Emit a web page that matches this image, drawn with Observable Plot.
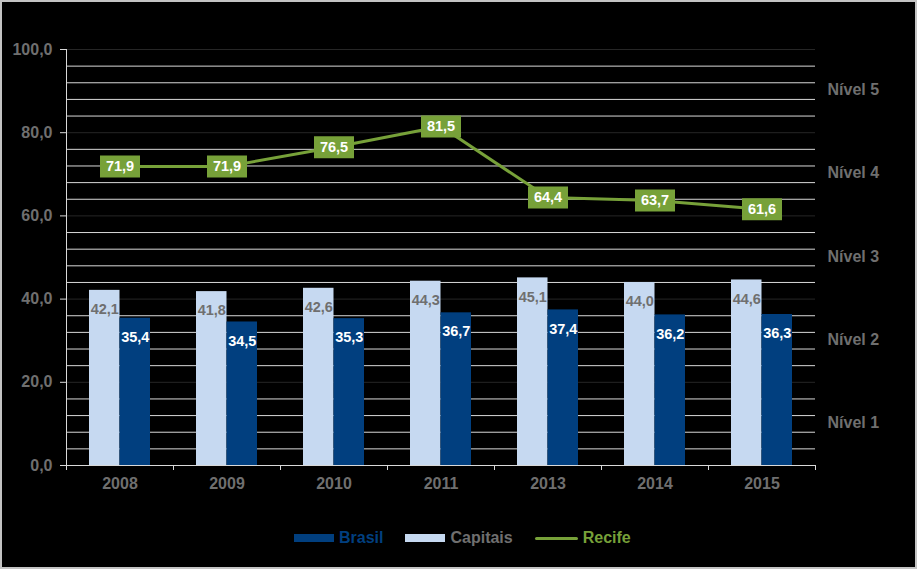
<!DOCTYPE html>
<html>
<head>
<meta charset="utf-8">
<script src="https://cdn.jsdelivr.net/npm/d3@7"></script>
<script src="https://cdn.jsdelivr.net/npm/@observablehq/plot@0.6"></script>
<style>
  html, body { margin: 0; padding: 0; background: #000; }
  #wrap { position: relative; width: 917px; height: 569px; box-sizing: border-box;
          border: 2px solid #c3c3c3; background: #000; overflow: hidden;
          font-family: "Liberation Sans", Arial, sans-serif; font-weight: bold; }
  #chart svg { display: block; }
  #legend { position: absolute; left: 292px; top: 527px; display: flex; align-items: center; gap: 22px; font-size: 16px; }
  .item { display: flex; align-items: center; gap: 5px; }
</style>
</head>
<body>
<div id="wrap">
  <div id="chart"></div>
  <div id="legend"></div>
</div>
<script>
// ---- data ----
const years = ["2008", "2009", "2010", "2011", "2013", "2014", "2015"];
const capitais = [42.1, 41.8, 42.6, 44.3, 45.1, 44.0, 44.6];
const brasil = [35.4, 34.5, 35.3, 36.7, 37.4, 36.2, 36.3];
const recife = [71.9, 71.9, 76.5, 81.5, 64.4, 63.7, 61.6];
const seriesNames = ["Brasil", "Capitais", "Recife"];
const yTicks = [0, 20, 40, 60, 80, 100];
const nivelTicks = [10, 30, 50, 70, 90];
const nivelLabels = ["Nível 1", "Nível 2", "Nível 3", "Nível 4", "Nível 5"];

// ---- styles ----
const C_BRASIL = "#013f7f", C_CAP = "#c6d9f1", C_REC = "#77a139";
const C_TEXT = "#6f6f6f", C_MINOR = "#d9d9d9", C_MAJOR = "#262626";

const fmt = v => v.toFixed(1).replace(".", ",");
const capRows = years.map((y, i) => ({year: y, value: capitais[i]}));
const braRows = years.map((y, i) => ({year: y, value: brasil[i]}));
const recRows = years.map((y, i) => ({year: y, value: recife[i]}));
const minorGrid = d3.range(4, 100, 4).filter(v => v % 20 !== 0);
const majorGrid = yTicks.filter(v => v > 0);

const W = 913, H = 505, ML = 64, MR = 100;
const half = (W - ML - MR) / years.length / 2;

const boxSymbol = { draw(ctx) { ctx.rect(-20, -11, 40, 22); } };

const chart = Plot.plot({
  width: W, height: H,
  marginLeft: ML, marginRight: MR, marginTop: 47, marginBottom: 42,
  style: { background: "#000", fontFamily: "'Liberation Sans', Arial, sans-serif", fontWeight: "bold", fontSize: "16px" },
  x: { domain: years, padding: 0, label: null },
  y: { domain: [0, 100], label: null },
  marks: [
    Plot.ruleY(minorGrid, { stroke: C_MINOR, strokeWidth: 1 }),
    Plot.ruleY(majorGrid, { stroke: C_MAJOR, strokeWidth: 1 }),
    Plot.ruleY([0], { stroke: C_MINOR }),
    Plot.ruleX([years[0]], { dx: -half, stroke: C_MINOR }),
    Plot.axisY({ ticks: yTicks, tickSize: 6, tickPadding: 8, tickFormat: fmt, label: null, stroke: C_MINOR, fill: C_TEXT, fontSize: 16, fontWeight: "bold" }),
    Plot.axisY({ anchor: "right", ticks: nivelTicks, tickSize: 0, tickPadding: 12, label: null, dy: -1,
                 tickFormat: d => nivelLabels[nivelTicks.indexOf(d)], fill: C_TEXT, fontSize: 16, fontWeight: "bold" }),
    Plot.axisX({ tickSize: 5, tickFormat: () => "", label: null, dx: -half, stroke: C_MINOR }),
    Plot.axisX({ ticks: [years[years.length - 1]], tickSize: 5, tickFormat: () => "", label: null, dx: half, stroke: C_MINOR }),
    Plot.axisX({ tickSize: 0, tickPadding: 12, label: null, fill: C_TEXT, fontSize: 16, fontWeight: "bold" }),
    Plot.barY(capRows, { x: "year", y: "value", fill: C_CAP, insetLeft: 23, insetRight: half }),
    Plot.barY(braRows, { x: "year", y: "value", fill: C_BRASIL, insetLeft: half, insetRight: 23 }),
    Plot.text(capRows, { x: "year", y: "value", text: d => fmt(d.value), dx: -15.25, dy: 19, fill: C_TEXT, fontSize: 14.5, fontWeight: "bold" }),
    Plot.text(braRows, { x: "year", y: "value", text: d => fmt(d.value), dx: 15.25, dy: 19, fill: "#fff", fontSize: 14.5, fontWeight: "bold" }),
    Plot.line(recRows, { x: "year", y: "value", stroke: C_REC, strokeWidth: 3 }),
    Plot.dot(recRows, { x: "year", y: "value", symbol: boxSymbol, fill: C_REC, stroke: "none" }),
    Plot.text(recRows, { x: "year", y: "value", text: d => fmt(d.value), fill: "#fff", fontSize: 14.5, fontWeight: "bold" })
  ]
});
document.getElementById("chart").appendChild(chart);

// ---- legend ----
const legend = document.getElementById("legend");
const legendStyle = [
  { swatch: `width:40px;height:8px;background:${C_BRASIL}`, color: C_BRASIL },
  { swatch: `width:40px;height:8px;background:${C_CAP}`, color: C_TEXT },
  { swatch: `width:43px;height:3px;background:${C_REC};border-radius:2px`, color: C_REC }
];
seriesNames.forEach((name, i) => {
  const it = document.createElement("div");
  it.className = "item";
  it.innerHTML = `<span style="${legendStyle[i].swatch};display:inline-block"></span><span style="color:${legendStyle[i].color}">${name}</span>`;
  legend.appendChild(it);
});
</script>
</body>
</html>
